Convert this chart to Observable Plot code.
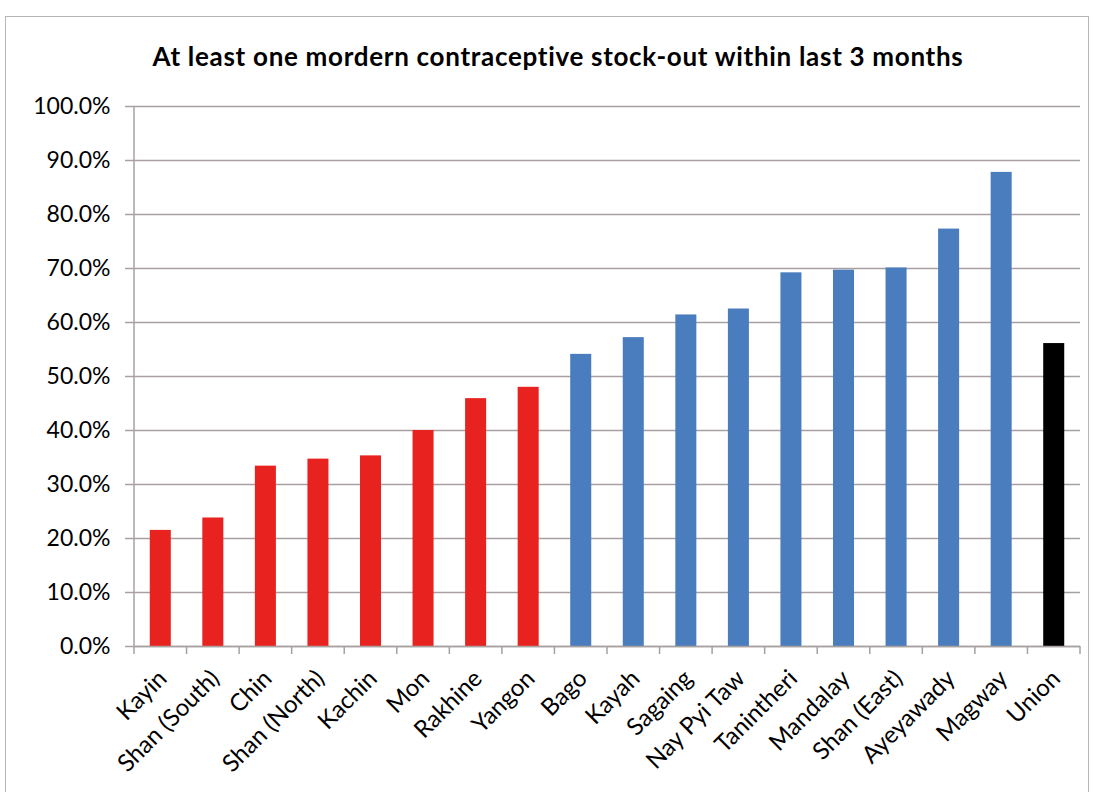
<!DOCTYPE html>
<html>
<head>
<meta charset="utf-8">
<script src="https://cdn.jsdelivr.net/npm/d3@7"></script>
<script src="https://cdn.jsdelivr.net/npm/@observablehq/plot@0.6"></script>
<style>
  html, body { margin: 0; padding: 0; background: #fff; }
  #wrap { position: relative; width: 1093px; height: 792px; overflow: hidden; }
  #frame { position: absolute; left: 5px; top: 16px; width: 1084px; height: 800px; border: 1px solid #b9b4b4; box-sizing: border-box; }
  #title { position: absolute; left: 0; width: 1116px; top: 40px; text-align: center; letter-spacing: 0.7px;
           font-family: Lato, sans-serif; font-weight: bold; font-size: 26px; color: #000; }
  #chart { position: absolute; left: 0; top: 0; }
</style>
</head>
<body>
<div id="wrap">
  <div id="frame"></div>
  <div id="chart"></div>
  <div id="title">At least one mordern contraceptive stock-out within last 3 months</div>
</div>
<script>
const regions = ["Kayin", "Shan (South)", "Chin", "Shan (North)", "Kachin", "Mon", "Rakhine", "Yangon",
  "Bago", "Kayah", "Sagaing", "Nay Pyi Taw", "Tanintheri", "Mandalay", "Shan (East)", "Ayeyawady", "Magway", "Union"];
const values = [0.215, 0.238, 0.334, 0.347, 0.353, 0.400, 0.459, 0.480,
  0.541, 0.572, 0.614, 0.625, 0.692, 0.697, 0.701, 0.773, 0.878, 0.561];
const groups = ["low", "low", "low", "low", "low", "low", "low", "low",
  "high", "high", "high", "high", "high", "high", "high", "high", "high", "union"];
const yTicks = [0, 0.1, 0.2, 0.3, 0.4, 0.5, 0.6, 0.7, 0.8, 0.9, 1.0];

const data = regions.map((r, i) => ({region: r, value: values[i], group: groups[i]}));

const plot = Plot.plot({
  width: 1093,
  height: 792,
  marginTop: 106,
  marginBottom: 146,
  marginLeft: 134,
  marginRight: 13,
  style: {fontFamily: "Lato, sans-serif", fontSize: "23px", color: "#000", background: "transparent"},
  x: {domain: regions, paddingInner: 0.6, paddingOuter: 0.3, round: false, label: null},
  y: {domain: [0, 1], label: null},
  color: {domain: ["low", "high", "union"], range: ["#e8231f", "#4a7dbd", "#000000"]},
  marks: [
    Plot.gridY(yTicks, {stroke: "#a8a0a0", strokeOpacity: 1, strokeWidth: 1.5}),
    Plot.barY(data, {x: "region", y: "value", fill: "group"}),
    Plot.axisY(yTicks, {tickSize: 9, tickPadding: 15, stroke: "#a8a0a0", strokeWidth: 1.5,
      tickFormat: d => (d * 100).toFixed(1) + "%", fontSize: 23}),
    Plot.axisX({tickSize: 0, tickRotate: -45, tickPadding: 28, dx: 2, fontSize: 24}),
    Plot.ruleY([0], {stroke: "#a8a0a0", strokeWidth: 1.5})
  ]
});
document.getElementById("chart").appendChild(plot);

// Category boundary tick marks on the x axis, placed with the plot's own scales
const xs = plot.scale("x");
const ys = plot.scale("y");
const y0 = ys.apply(0);
const svg = d3.select(plot);
const left = xs.apply(regions[0]) - (xs.step - xs.bandwidth) / 2;
const tickXs = d3.range(regions.length + 1).map(i => left + i * xs.step);
svg.append("g").attr("stroke", "#a8a0a0").attr("stroke-width", 1.5)
  .selectAll("line").data(tickXs).join("line")
  .attr("x1", d => d).attr("x2", d => d).attr("y1", y0).attr("y2", y0 + 8);
// y axis line drawn across the full range
svg.append("line").attr("stroke", "#a8a0a0").attr("stroke-width", 1.5)
  .attr("x1", left).attr("x2", left).attr("y1", ys.apply(1)).attr("y2", y0);
</script>
</body>
</html>
